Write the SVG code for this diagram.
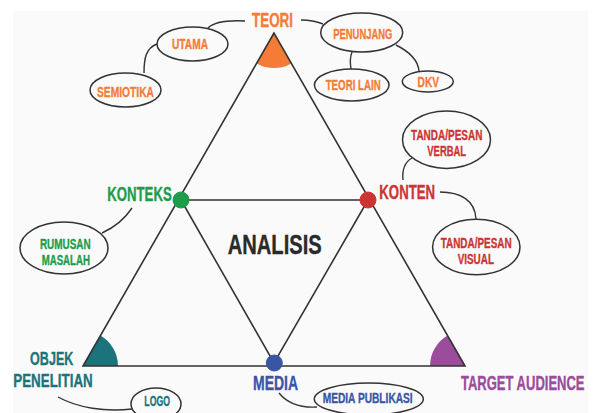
<svg xmlns="http://www.w3.org/2000/svg" width="594" height="413" viewBox="0 0 594 413">
<style>
text{font-family:"Liberation Sans",Arial,sans-serif;font-weight:bold;text-anchor:middle;stroke-width:0.35;stroke-linejoin:round}
.big{font-size:19.5px}
.sm{font-size:14.5px}
.line{fill:none;stroke:#333;stroke-width:1.6}
.conn{fill:none;stroke:#333;stroke-width:1.4}
.bub{fill:none;stroke:#333;stroke-width:1.5}
.or{fill:#f47c36;stroke:#f47c36}.gr{fill:#1e9c4a;stroke:#1e9c4a}.rd{fill:#cc3434;stroke:#cc3434}.tl{fill:#1b747b;stroke:#1b747b}.bl{fill:#3b55a5;stroke:#3b55a5}.pu{fill:#9b4c9b;stroke:#9b4c9b}
.wedge{stroke:none}
</style>
<rect x="0" y="0" width="594" height="413" fill="#ffffff"/>
<rect x="13" y="11" width="575" height="402" fill="#fafafa"/>
<g id="wedges">
<path class="or wedge" d="M274,33 L256.6,63.4 A35,35 0 0 0 291.4,63.4 Z"/>
<path class="tl wedge" d="M83,366 L118,366 A35,35 0 0 0 100.4,335.6 Z"/>
<path class="pu wedge" d="M465,366 L430,366 A35,35 0 0 1 447.6,335.6 Z"/>
</g>
<g id="connectors">
<path class="line" d="M274,33 L83,366 L465,366 Z"/>
<path class="line" d="M181,200 L368,200 L274,363 Z"/>
<path class="conn" d="M245,21 C225,20 213,23 208,28"/>
<path class="conn" d="M157,44 C146,48 144,58 144,73"/>
<path class="conn" d="M301,20 C310,20 318,22 323,24"/>
<path class="conn" d="M352,52 C350,57 350,63 351,69"/>
<path class="conn" d="M396,45 C410,52 418,60 419,71"/>
<path class="conn" d="M403,180 C402,170 405,162 412,158"/>
<path class="conn" d="M440,192 C460,192 475,200 476,219"/>
<path class="conn" d="M132,208 C124,220 113,228 102,233"/>
<path class="conn" d="M58,397 C78,408 105,412 132,409"/>
<path class="conn" d="M279,393 C288,404 300,408 317,407"/>
</g>
<g id="teori"><text class="big or" x="272.5" y="27" textLength="41" lengthAdjust="spacingAndGlyphs">TEORI</text></g>
<g id="utama"><ellipse class="bub" cx="192.5" cy="44" rx="35.5" ry="17"/><text class="sm or" x="190" y="49" textLength="36" lengthAdjust="spacingAndGlyphs">UTAMA</text></g>
<g id="semiotika"><ellipse class="bub" cx="125.5" cy="90" rx="35.5" ry="17"/><text class="sm or" x="125.5" y="97" textLength="57" lengthAdjust="spacingAndGlyphs">SEMIOTIKA</text></g>
<g id="penunjang"><ellipse class="bub" cx="361.7" cy="32.5" rx="41" ry="19.5"/><text class="sm or" x="362.8" y="39" textLength="59" lengthAdjust="spacingAndGlyphs">PENUNJANG</text></g>
<g id="teori-lain"><ellipse class="bub" cx="351.7" cy="85" rx="37.3" ry="16"/><text class="sm or" x="353.2" y="90" textLength="55" lengthAdjust="spacingAndGlyphs">TEORI LAIN</text></g>
<g id="dkv"><ellipse class="bub" cx="427.8" cy="81.5" rx="25.5" ry="10.5"/><text class="sm or" x="428.3" y="86.5" textLength="21.5" lengthAdjust="spacingAndGlyphs">DKV</text></g>
<g id="konteks"><circle class="gr" cx="181" cy="200" r="8" stroke="none"/><text class="big gr" x="139.5" y="201" textLength="64.4" lengthAdjust="spacingAndGlyphs">KONTEKS</text></g>
<g id="rumusan"><ellipse class="bub" cx="64" cy="248" rx="44" ry="26"/><text class="sm gr" x="65.3" y="248.7" textLength="50.7" lengthAdjust="spacingAndGlyphs">RUMUSAN</text><text class="sm gr" x="65.8" y="265" textLength="48.3" lengthAdjust="spacingAndGlyphs">MASALAH</text></g>
<g id="konten"><circle class="rd" cx="368" cy="200" r="8" stroke="none"/><text class="big rd" x="407.2" y="199.3" textLength="55.7" lengthAdjust="spacingAndGlyphs">KONTEN</text></g>
<g id="verbal"><ellipse class="bub" cx="446.5" cy="139.7" rx="44" ry="28.7"/><text class="sm rd" x="446.7" y="140" textLength="71.3" lengthAdjust="spacingAndGlyphs">TANDA/PESAN</text><text class="sm rd" x="446.7" y="155.7" textLength="38.7" lengthAdjust="spacingAndGlyphs">VERBAL</text></g>
<g id="visual"><ellipse class="bub" cx="476.3" cy="247" rx="43.7" ry="27.8"/><text class="sm rd" x="476.2" y="248.3" textLength="71" lengthAdjust="spacingAndGlyphs">TANDA/PESAN</text><text class="sm rd" x="475.8" y="264.3" textLength="36.3" lengthAdjust="spacingAndGlyphs">VISUAL</text></g>
<g id="analisis"><text x="274.7" y="254" font-size="27" fill="#2a2a2a" stroke="#2a2a2a" stroke-width="0.6" textLength="94" lengthAdjust="spacingAndGlyphs">ANALISIS</text></g>
<g id="objek"><text class="tl" font-size="18.5" x="51.7" y="365" textLength="43.3" lengthAdjust="spacingAndGlyphs">OBJEK</text><text class="tl" font-size="18.5" x="53" y="387.3" textLength="79.4" lengthAdjust="spacingAndGlyphs">PENELITIAN</text></g>
<g id="logo"><ellipse class="bub" cx="156" cy="404" rx="25" ry="16"/><text class="sm tl" x="157.2" y="406" textLength="25.7" lengthAdjust="spacingAndGlyphs">LOGO</text></g>
<g id="media"><circle class="bl" cx="274.3" cy="363" r="8" stroke="none"/><text class="big bl" x="275.5" y="389.8" textLength="45" lengthAdjust="spacingAndGlyphs">MEDIA</text></g>
<g id="media-publikasi"><ellipse class="bub" cx="368.8" cy="399" rx="54.5" ry="16"/><text class="sm bl" x="367.7" y="403" textLength="90" lengthAdjust="spacingAndGlyphs">MEDIA PUBLIKASI</text></g>
<g id="target"><text class="big pu" x="584.5" y="389.8" text-anchor="end" style="text-anchor:end" textLength="123.5" lengthAdjust="spacingAndGlyphs">TARGET AUDIENCE</text></g>
</svg>
